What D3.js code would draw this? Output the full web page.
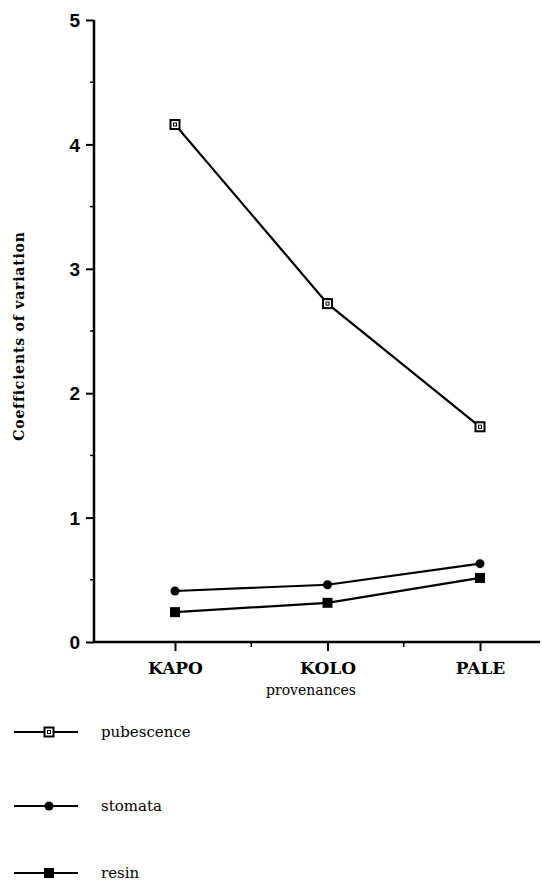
<!DOCTYPE html>
<html><head><meta charset="utf-8">
<script src="https://cdn.jsdelivr.net/npm/d3@7"></script>
<style>body{margin:0;background:#fff}svg{display:block}</style>
</head><body>
<script>
const categories = ["KAPO","KOLO","PALE"];
const pubescence = [4.16, 2.72, 1.73];
const stomata = [0.41, 0.46, 0.63];
const resin = [0.24, 0.315, 0.515];
const yTicks = [0,1,2,3,4,5];
const seriesNames = ["pubescence","stomata","resin"];

const W=542,H=884;
const svg=d3.select("body").append("svg").attr("width",W).attr("height",H);
const x=d3.scalePoint().domain(categories).range([175,480]);
const y=d3.scaleLinear().domain([0,5]).range([642,20]);
const serif="'DejaVu Serif','Liberation Serif',serif";
const sans="'Liberation Sans',Arial,sans-serif";

// y axis
const gy=svg.append("g").attr("transform","translate(94,0)");
gy.call(d3.axisLeft(y).tickValues(yTicks).tickSize(8).tickPadding(6).tickFormat(d3.format("d")));
gy.select(".domain").attr("d",`M0,${y(5)}V${y(0)}`).attr("stroke","#000").attr("stroke-width",2.5);
gy.selectAll(".tick line").attr("stroke","#000").attr("stroke-width",2);
gy.selectAll(".tick text").attr("font-family",sans).attr("font-size",19).attr("font-weight","bold").attr("fill","#000").attr("dy","0.35em");
gy.selectAll(".minor").data(d3.range(0.5,5,1)).enter().append("line")
  .attr("x1",-4).attr("x2",0).attr("y1",d=>y(d)).attr("y2",d=>y(d)).attr("stroke","#000").attr("stroke-width",1.5);

// x axis
const gx=svg.append("g").attr("transform",`translate(0,${y(0)})`);
gx.call(d3.axisBottom(x).tickSize(9).tickPadding(11));
gx.select(".domain").attr("d","M94,0H540").attr("stroke","#000").attr("stroke-width",2.5);
gx.selectAll(".tick line").attr("stroke","#000").attr("stroke-width",2);
gx.selectAll(".tick text").attr("font-family",serif).attr("font-size",17).attr("font-weight","bold").attr("fill","#000");
const step=x.step();
gx.selectAll(".minor").data(categories.slice(0,-1)).enter().append("line")
  .attr("x1",d=>x(d)+step/2).attr("x2",d=>x(d)+step/2).attr("y1",0).attr("y2",5).attr("stroke","#000").attr("stroke-width",1.5);

svg.append("text").attr("x",311).attr("y",695).attr("text-anchor","middle")
  .attr("font-family",serif).attr("font-size",14).text("provenances");
svg.append("text").attr("transform","translate(24,336) rotate(-90)").attr("text-anchor","middle")
  .attr("font-family",serif).attr("font-size",14).attr("font-weight","bold").attr("letter-spacing",0.8).text("Coefficients of variation");

function marker(g,type,cx,cy){
  if(type==="pubescence"){
    g.append("rect").attr("x",cx-4.5).attr("y",cy-4.5).attr("width",9).attr("height",9).attr("fill","#fff").attr("stroke","#000").attr("stroke-width",2);
    g.append("rect").attr("x",cx-1.5).attr("y",cy-1.5).attr("width",3).attr("height",3).attr("fill","none").attr("stroke","#000").attr("stroke-width",1);
  } else if(type==="stomata"){
    g.append("circle").attr("cx",cx).attr("cy",cy).attr("r",4.5).attr("fill","#000");
  } else {
    g.append("rect").attr("x",cx-5).attr("y",cy-5).attr("width",10).attr("height",10).attr("fill","#000");
  }
}
const data={pubescence,stomata,resin};
const line=d3.line().x((d,i)=>x(categories[i])).y(d=>y(d));
seriesNames.forEach(s=>{
  const g=svg.append("g");
  g.append("path").attr("d",line(data[s])).attr("fill","none").attr("stroke","#000").attr("stroke-width",2.2);
  data[s].forEach((v,i)=>marker(g,s,x(categories[i]),y(v)));
});

// legend
const legY=[732,806,873];
seriesNames.forEach((s,i)=>{
  const g=svg.append("g");
  g.append("line").attr("x1",14).attr("x2",78).attr("y1",legY[i]).attr("y2",legY[i]).attr("stroke","#000").attr("stroke-width",2);
  marker(g,s,49,legY[i]);
  g.append("text").attr("x",101).attr("y",legY[i]).attr("dy","0.35em").attr("font-family",serif).attr("font-size",15).text(s);
});
</script>
</body></html>
